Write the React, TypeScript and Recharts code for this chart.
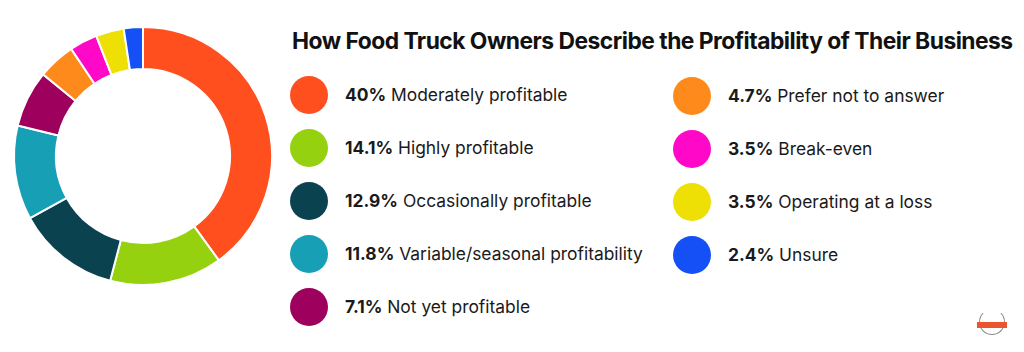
import React from 'react';
import { PieChart, Pie, Cell, Legend } from 'recharts';

const labels = [
  'Moderately profitable',
  'Highly profitable',
  'Occasionally profitable',
  'Variable/seasonal profitability',
  'Not yet profitable',
  'Prefer not to answer',
  'Break-even',
  'Operating at a loss',
  'Unsure',
];
const shares = [40, 14.1, 12.9, 11.8, 7.1, 4.7, 3.5, 3.5, 2.4];
const colors = ['#FF4F1F', '#95D10E', '#0B4250', '#17A0B5', '#9E005E', '#FF8A1C', '#FF08C8', '#EEE004', '#1450F5'];

const data = labels.map((name, i) => ({ name, value: shares[i] }));

const FONT = "'Inter', 'Noto Sans', sans-serif";

function LegendBlock() {
  const row = (i: number) => (
    <div key={i} style={{ display: 'flex', alignItems: 'center', height: 53 }}>
      <div style={{ width: 38, height: 38, borderRadius: '50%', background: colors[i], flex: 'none' }} />
      <div style={{ marginLeft: 17, fontSize: 17.4, color: '#1a1a1a', whiteSpace: 'nowrap' }}>
        <span style={{ fontWeight: 700 }}>{shares[i]}%</span> {labels[i]}
      </div>
    </div>
  );
  return (
    <div style={{ position: 'absolute', left: 0, top: 0, width: 1024, height: 352, fontFamily: FONT, pointerEvents: 'none' }}>
      <div style={{ position: 'absolute', left: 292, top: 27, fontSize: 22.8, fontWeight: 700, color: '#111', letterSpacing: -0.5, whiteSpace: 'nowrap' }}>
        How Food Truck Owners Describe the Profitability of Their Business
      </div>
      <div style={{ position: 'absolute', left: 290, top: 68 }}>
        {[0, 1, 2, 3, 4].map(row)}
      </div>
      <div style={{ position: 'absolute', left: 673, top: 69 }}>
        {[5, 6, 7, 8].map(row)}
      </div>
      {/* small emblem, bottom right */}
      <div style={{ position: 'absolute', left: 979, top: 309, width: 26, height: 26, borderRadius: '50%', border: '1.5px solid #8a8a8a', borderTopColor: 'transparent', boxSizing: 'border-box' }} />
      <div style={{ position: 'absolute', left: 977, top: 322, width: 30, height: 6, background: '#E8552E' }} />
    </div>
  );
}

export default function App() {
  return (
    <div style={{ position: 'absolute', left: 0, top: 0, width: 1024, height: 352, background: '#fff' }}>
      <PieChart width={1024} height={352}>
        <Pie
          data={data}
          dataKey="value"
          nameKey="name"
          cx={138}
          cy={151}
          innerRadius={87}
          outerRadius={129}
          startAngle={90}
          endAngle={-270}
          stroke="#fff"
          strokeWidth={2}
          isAnimationActive={false}
        >
          {data.map((d, i) => (
            <Cell key={d.name} fill={colors[i]} />
          ))}
        </Pie>
        <Legend content={() => <LegendBlock />} wrapperStyle={{ position: 'absolute', left: 0, top: 0, width: 1024, height: 352 }} />
      </PieChart>
    </div>
  );
}
